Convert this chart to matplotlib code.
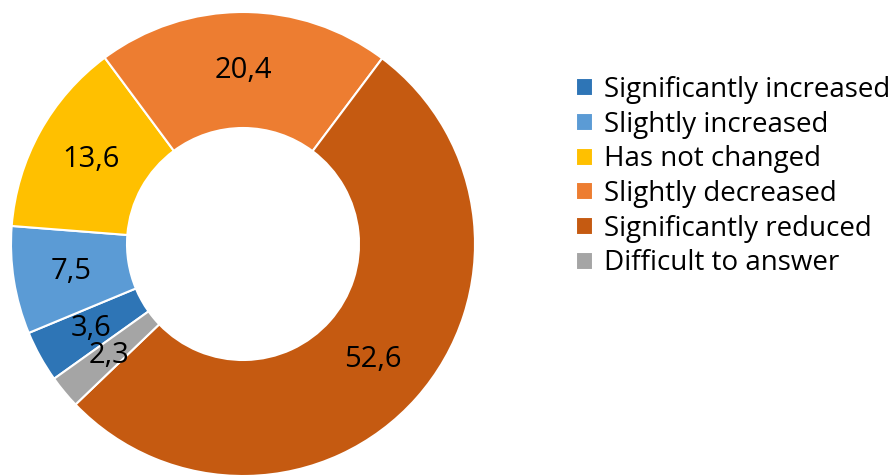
import numpy as np
import matplotlib.pyplot as plt

plt.rcParams['font.family'] = ['Open Sans', 'DejaVu Sans']

categories = ["Significantly increased", "Slightly increased", "Has not changed",
              "Slightly decreased", "Significantly reduced", "Difficult to answer"]
shares = [3.6, 7.5, 13.6, 20.4, 52.6, 2.3]
colors = ["#2E75B6", "#5B9BD5", "#FFC000", "#ED7D31", "#C55A11", "#A5A5A5"]

fig = plt.figure(figsize=(8.93, 4.75), dpi=100)
# donut occupies the left part, legend sits to the right
ax = fig.add_axes([11 / 893, (475 - 244 - 232) / 475, 464 / 893, 464 / 475])

wedges, _ = ax.pie(shares, colors=colors, startangle=-144.5, counterclock=False,
                   radius=1.0, wedgeprops=dict(width=0.5, edgecolor="white", linewidth=1.5))

# value labels in the middle of the ring, comma as decimal separator
for w, v in zip(wedges, shares):
    ang = np.deg2rad((w.theta1 + w.theta2) / 2)
    x, y = 0.75 * np.cos(ang), 0.75 * np.sin(ang)
    ax.text(x, y, f"{v:.1f}".replace(".", ","), ha="center", va="center",
            fontsize=21, color="black")

ax.set_xlim(-1, 1)
ax.set_ylim(-1, 1)
ax.set_aspect("equal")
ax.axis("off")

fig.legend(wedges, categories, loc="upper left", bbox_to_anchor=(576 / 893, 1 - 76 / 475),
           frameon=False, fontsize=20, handlelength=0.62, handleheight=0.62,
           handletextpad=0.4, labelspacing=0.24, borderaxespad=0, borderpad=0)

fig.savefig("out.png", dpi=100)
